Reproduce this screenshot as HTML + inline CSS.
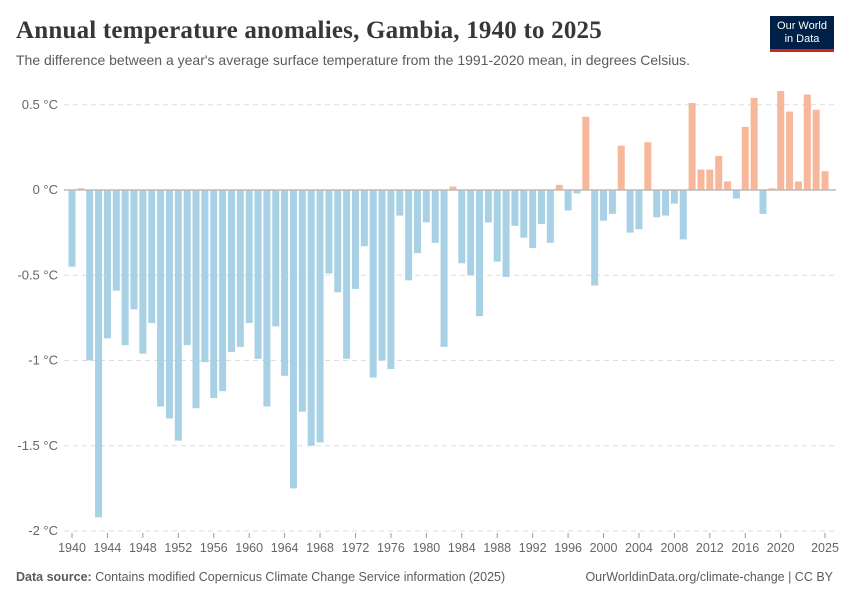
<!DOCTYPE html>
<html><head><meta charset="utf-8"><style>
body{margin:0;background:#fff;font-family:"Liberation Sans",sans-serif;}
#wrap{position:relative;width:850px;height:600px;overflow:hidden;}
.t{position:absolute;white-space:nowrap;}
</style></head><body>
<div id="wrap">
<div class="t" style="left:16px;top:17px;font-family:'Liberation Serif',serif;font-size:25px;font-weight:bold;color:#373737;letter-spacing:0.2px;">Annual temperature anomalies, Gambia, 1940 to 2025</div>
<div class="t" style="left:16px;top:52px;font-size:14px;color:#5b5b5b;">The difference between a year's average surface temperature from the 1991-2020 mean, in degrees Celsius.</div>
<div style="position:absolute;left:770px;top:16px;width:64px;height:36px;background:#002147;border-bottom:3px solid #ce261e;color:#fff;font-size:11px;text-align:center;line-height:13px;padding-top:4px;box-sizing:border-box;">Our World<br>in Data</div>
<svg id="chart" width="850" height="600" style="position:absolute;left:0;top:0"></svg>
<div class="t" style="left:16px;top:570px;font-size:12.5px;color:#5b5b5b;"><b>Data source:</b> Contains modified Copernicus Climate Change Service information (2025)</div>
<div class="t" style="right:17px;top:570px;font-size:12.5px;color:#5b5b5b;">OurWorldinData.org/climate-change | CC BY</div>
</div>
<script>
const startYear = 1940;
const values = [-0.45,0.01,-1.0,-1.92,-0.87,-0.59,-0.91,-0.70,-0.96,-0.78,
-1.27,-1.34,-1.47,-0.91,-1.28,-1.01,-1.22,-1.18,-0.95,-0.92,
-0.78,-0.99,-1.27,-0.80,-1.09,-1.75,-1.30,-1.50,-1.48,-0.49,
-0.60,-0.99,-0.58,-0.33,-1.10,-1.00,-1.05,-0.15,-0.53,-0.37,
-0.19,-0.31,-0.92,0.02,-0.43,-0.50,-0.74,-0.19,-0.42,-0.51,
-0.21,-0.28,-0.34,-0.20,-0.31,0.03,-0.12,-0.02,0.43,-0.56,
-0.18,-0.14,0.26,-0.25,-0.23,0.28,-0.16,-0.15,-0.08,-0.29,
0.51,0.12,0.12,0.20,0.05,-0.05,0.37,0.54,-0.14,0.01,
0.58,0.46,0.05,0.56,0.47,0.11];
const yTicks = [0.5,0,-0.5,-1,-1.5,-2];
const yTickLabels = ["0.5 °C","0 °C","-0.5 °C","-1 °C","-1.5 °C","-2 °C"];
const xTicks = [1940,1944,1948,1952,1956,1960,1964,1968,1972,1976,1980,1984,1988,1992,1996,2000,2004,2008,2012,2016,2020,2025];

const svg = document.getElementById('chart');
const NS = 'http://www.w3.org/2000/svg';
const y = v => 190 - v*170.5;
const x = yr => 72 + (yr-startYear)*(825-72)/85;
function mk(tag, attrs){const e=document.createElementNS(NS,tag);for(const k in attrs)e.setAttribute(k,attrs[k]);svg.appendChild(e);return e;}
yTicks.forEach((v,i)=>{
  if(v!==0){const g=mk('line',{x1:64,x2:836,y1:y(v),y2:y(v),stroke:'#ddd','stroke-dasharray':'5,4'});
  
  }
  const t=mk('text',{x:58,y:y(v)+4,'text-anchor':'end','font-size':'13','fill':'#666','font-family':'Liberation Sans, sans-serif'});
  t.textContent=yTickLabels[i];
  
  
});
values.forEach((v,i)=>{
  const yr=startYear+i, cx=x(yr), w=7;
  const r=mk('rect',{x:cx-w/2,y:Math.min(y(v),y(0)),width:w,height:Math.max(Math.abs(y(v)-y(0)),1),fill:v>=0?'#f6b79a':'#a9d1e5'});
  
  
});
const z=mk('line',{x1:64,x2:836,y1:y(0),y2:y(0),stroke:'#bbb','stroke-width':1.5});


xTicks.forEach(yr=>{
  const tk=mk('line',{x1:x(yr),x2:x(yr),y1:533,y2:538,stroke:'#999'});
  
  
  const t=mk('text',{x:x(yr),y:552,'text-anchor':'middle','font-size':'12.5','fill':'#666','font-family':'Liberation Sans, sans-serif'});
  t.textContent=yr;
  
  
});
</script>
</body></html>
